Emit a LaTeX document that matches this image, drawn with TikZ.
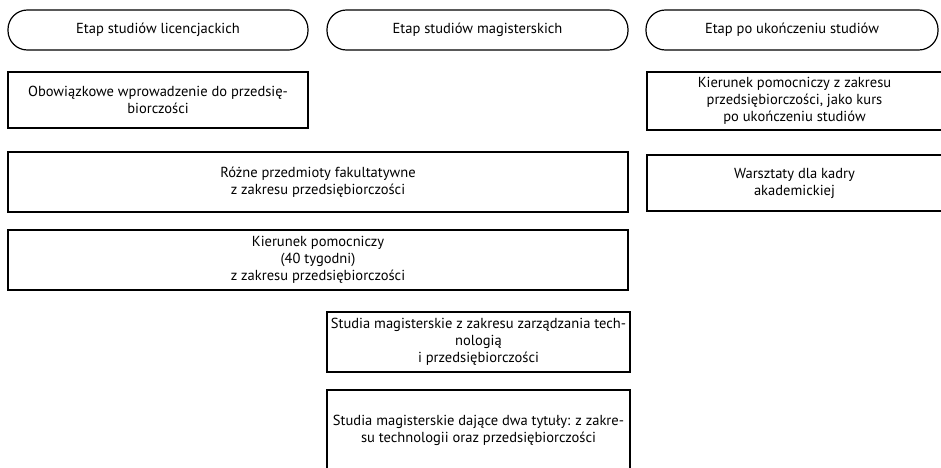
\documentclass[tikz,border=0pt]{standalone}
\usepackage{fontspec}
\setmainfont{PT Sans}
\usetikzlibrary{positioning}

\begin{document}
\begin{tikzpicture}[x=0.75pt,y=-0.75pt,
    etap/.style={draw,line width=0.9pt,rounded corners=14.5pt,minimum height=30pt,inner sep=0pt,align=center},
    blok/.style={draw,line width=1.2pt,inner sep=0pt,align=center},
    font=\fontsize{10.9}{12.8}\selectfont]
    % Clip to the page
    \clip (0,0) rectangle (941,467);
    
    % Stage headers
    \node[etap,minimum width=225pt] (lic) at (158,30) {Etap studiów licencjackich};
    \node[etap,minimum width=225.75pt] (mag) at (477.5,30) {Etap studiów magisterskich};
    \node[etap,minimum width=219pt] (po) at (792,30) {Etap po ukończeniu studiów};
    
    % Bachelor stage
    \node[blok,minimum width=225pt,minimum height=42pt] (wprow) at (158,100)
        {Obowiązkowe wprowadzenie do przedsię-\\biorczości};
    \node[blok,minimum width=465pt,minimum height=45pt] (fakult) at (318,182)
        {Różne przedmioty fakultatywne\\z zakresu przedsiębiorczości};
    \node[blok,minimum width=465pt,minimum height=45pt] (pomoc) at (318,260)
        {Kierunek pomocniczy\\(40 tygodni)\\z zakresu przedsiębiorczości};
    
    % Master stage
    \node[blok,minimum width=227.25pt,minimum height=45pt] (zarzad) at (478.5,342)
        {Studia magisterskie z zakresu zarządzania tech-\\nologią\\i przedsiębiorczości};
    \node[blok,minimum width=227.25pt,minimum height=60pt] (dwa) at (478.5,430)
        {Studia magisterskie dające dwa tytuły: z zakre-\\su technologii oraz przedsiębiorczości};
    
    % After graduation
    \node[blok,minimum width=221.25pt,minimum height=43.5pt] (kurs) at (794.5,101)
        {Kierunek pomocniczy z zakresu\\przedsiębiorczości, jako kurs\\po ukończeniu studiów};
    \node[blok,minimum width=221.25pt,minimum height=42pt] (warszt) at (794.5,183)
        {Warsztaty dla kadry\\akademickiej};
\end{tikzpicture}
\end{document}
